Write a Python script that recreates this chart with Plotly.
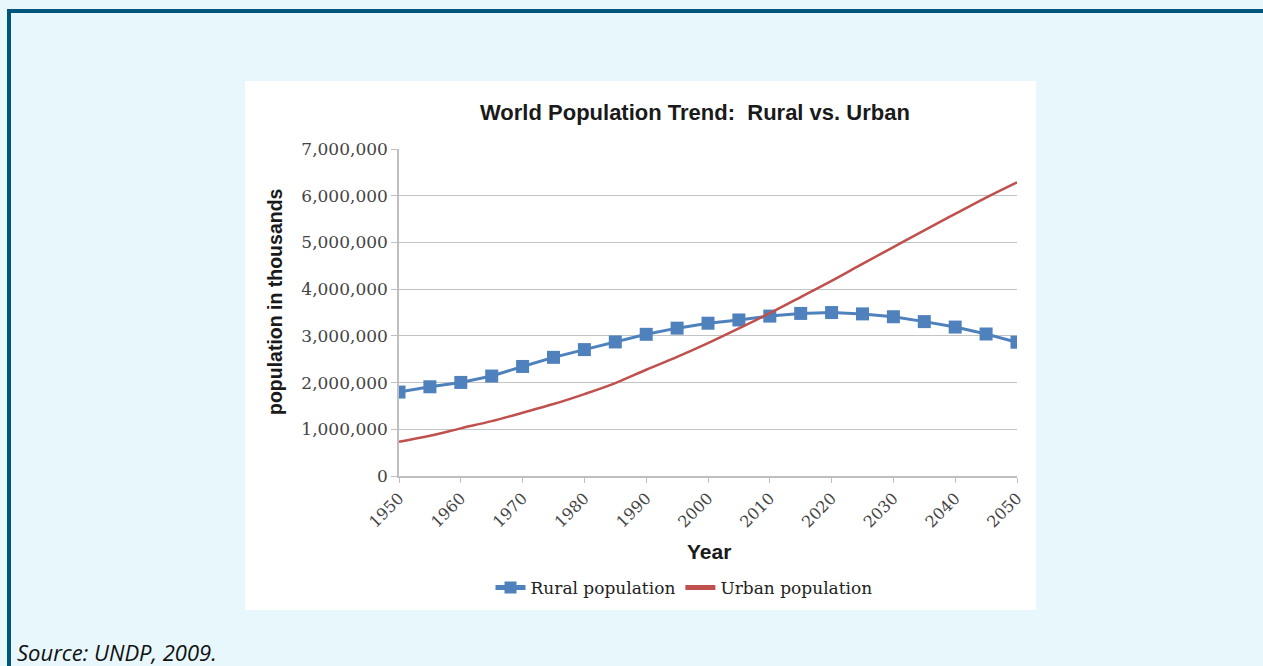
import plotly.graph_objects as go

years = [1950, 1955, 1960, 1965, 1970, 1975, 1980, 1985, 1990, 1995, 2000,
         2005, 2010, 2015, 2020, 2025, 2030, 2035, 2040, 2045, 2050]
rural = [1797000, 1910000, 2003000, 2140000, 2345000, 2540000, 2706000, 2870000,
         3033000, 3165000, 3271000, 3340000, 3423000, 3480000, 3499000, 3470000,
         3409000, 3305000, 3188000, 3040000, 2864000]
urban = [733000, 860000, 1020000, 1175000, 1354000, 1540000, 1754000, 1990000,
         2275000, 2550000, 2844000, 3160000, 3486000, 3830000, 4176000, 4540000,
         4900000, 5260000, 5611000, 5960000, 6286000]
x_ticks = [1950, 1960, 1970, 1980, 1990, 2000, 2010, 2020, 2030, 2040, 2050]
y_ticks = [0, 1000000, 2000000, 3000000, 4000000, 5000000, 6000000, 7000000]
y_tick_labels = ["0", "1,000,000", "2,000,000", "3,000,000", "4,000,000",
                 "5,000,000", "6,000,000", "7,000,000"]

W, H = 1263, 666
L, R, T, B = 399, 1017, 149, 476  # plot area in pixels

def px(x):
    return (x - L) / (R - L)

def py(y):
    return (B - y) / (B - T)

serif = "DejaVu Serif, serif"
sans = "Liberation Sans, Arial, sans-serif"

fig = go.Figure()
fig.add_trace(go.Scatter(
    x=years, y=rural, name="Rural population", mode="lines+markers",
    line=dict(color="#4F81BD", width=3),
    marker=dict(symbol="square", size=13, color="#4F81BD"),
))
fig.add_trace(go.Scatter(
    x=years, y=urban, name="Urban population", mode="lines",
    line=dict(color="#C0504D", width=2.5, shape="spline"),
))

shapes = [
    dict(type="rect", xref="paper", yref="paper", x0=px(245), x1=px(1036),
         y0=py(610), y1=py(81), fillcolor="white", line_width=0, layer="below"),
    dict(type="rect", xref="paper", yref="paper", x0=px(7), x1=px(1263),
         y0=py(13), y1=py(9), fillcolor="#00567A", line_width=0, layer="below"),
    dict(type="rect", xref="paper", yref="paper", x0=px(7), x1=px(11),
         y0=py(666), y1=py(9), fillcolor="#00567A", line_width=0, layer="below"),
]

annotations = [
    dict(text="<b>World Population Trend:  Rural vs. Urban</b>", xref="paper", yref="paper",
         x=px(695), y=py(112), showarrow=False, xanchor="center", yanchor="middle",
         font=dict(family=sans, size=22, color="#1a1a1a")),
    dict(text="<b>population in thousands</b>", xref="paper", yref="paper",
         x=px(275), y=py(302), showarrow=False, xanchor="center", yanchor="middle",
         textangle=-90, font=dict(family=sans, size=19.5, color="#1a1a1a")),
    dict(text="<b>Year</b>", xref="paper", yref="paper",
         x=px(709), y=py(551), showarrow=False, xanchor="center", yanchor="middle",
         font=dict(family=sans, size=21, color="#1a1a1a")),
    dict(text="<i>Source: UNDP, 2009.</i>", xref="paper", yref="paper",
         x=px(15), y=py(652), showarrow=False, xanchor="left", yanchor="middle",
         font=dict(family="Open Sans, sans-serif", size=22, color="#111111")),
]

fig.update_layout(
    width=W, height=H,
    margin=dict(l=L, r=W - R, t=T, b=H - B, pad=0),
    paper_bgcolor="#E8F7FC",
    plot_bgcolor="white",
    shapes=shapes,
    annotations=annotations,
    showlegend=True,
    legend=dict(orientation="h", x=px(684), y=py(588), xanchor="center", yanchor="middle",
                font=dict(family=serif, size=17, color="#222222"),
                bgcolor="rgba(0,0,0,0)", itemsizing="constant"),
    xaxis=dict(range=[1950, 2050], tickmode="array", tickvals=x_ticks,
               ticktext=[str(v) for v in x_ticks], tickangle=-45,
               showgrid=False, showline=True, linecolor="#BFBFBF", linewidth=1.5,
               ticks="outside", ticklen=5, tickcolor="#BFBFBF",
               tickfont=dict(family=serif, size=16, color="#444444"), zeroline=False),
    yaxis=dict(range=[0, 7000000], tickmode="array", tickvals=y_ticks,
               ticktext=y_tick_labels, showgrid=True, gridcolor="#C4C4C4", gridwidth=1.3,
               showline=True, linecolor="#BFBFBF", linewidth=1.5,
               ticks="outside", ticklen=6, tickcolor="#BFBFBF",
               tickfont=dict(family=serif, size=17, color="#444444"), zeroline=False),
)

fig.write_html("out.html", config={"displayModeBar": False},
               post_script="document.body.style.margin='0';document.body.style.overflow='hidden';")
